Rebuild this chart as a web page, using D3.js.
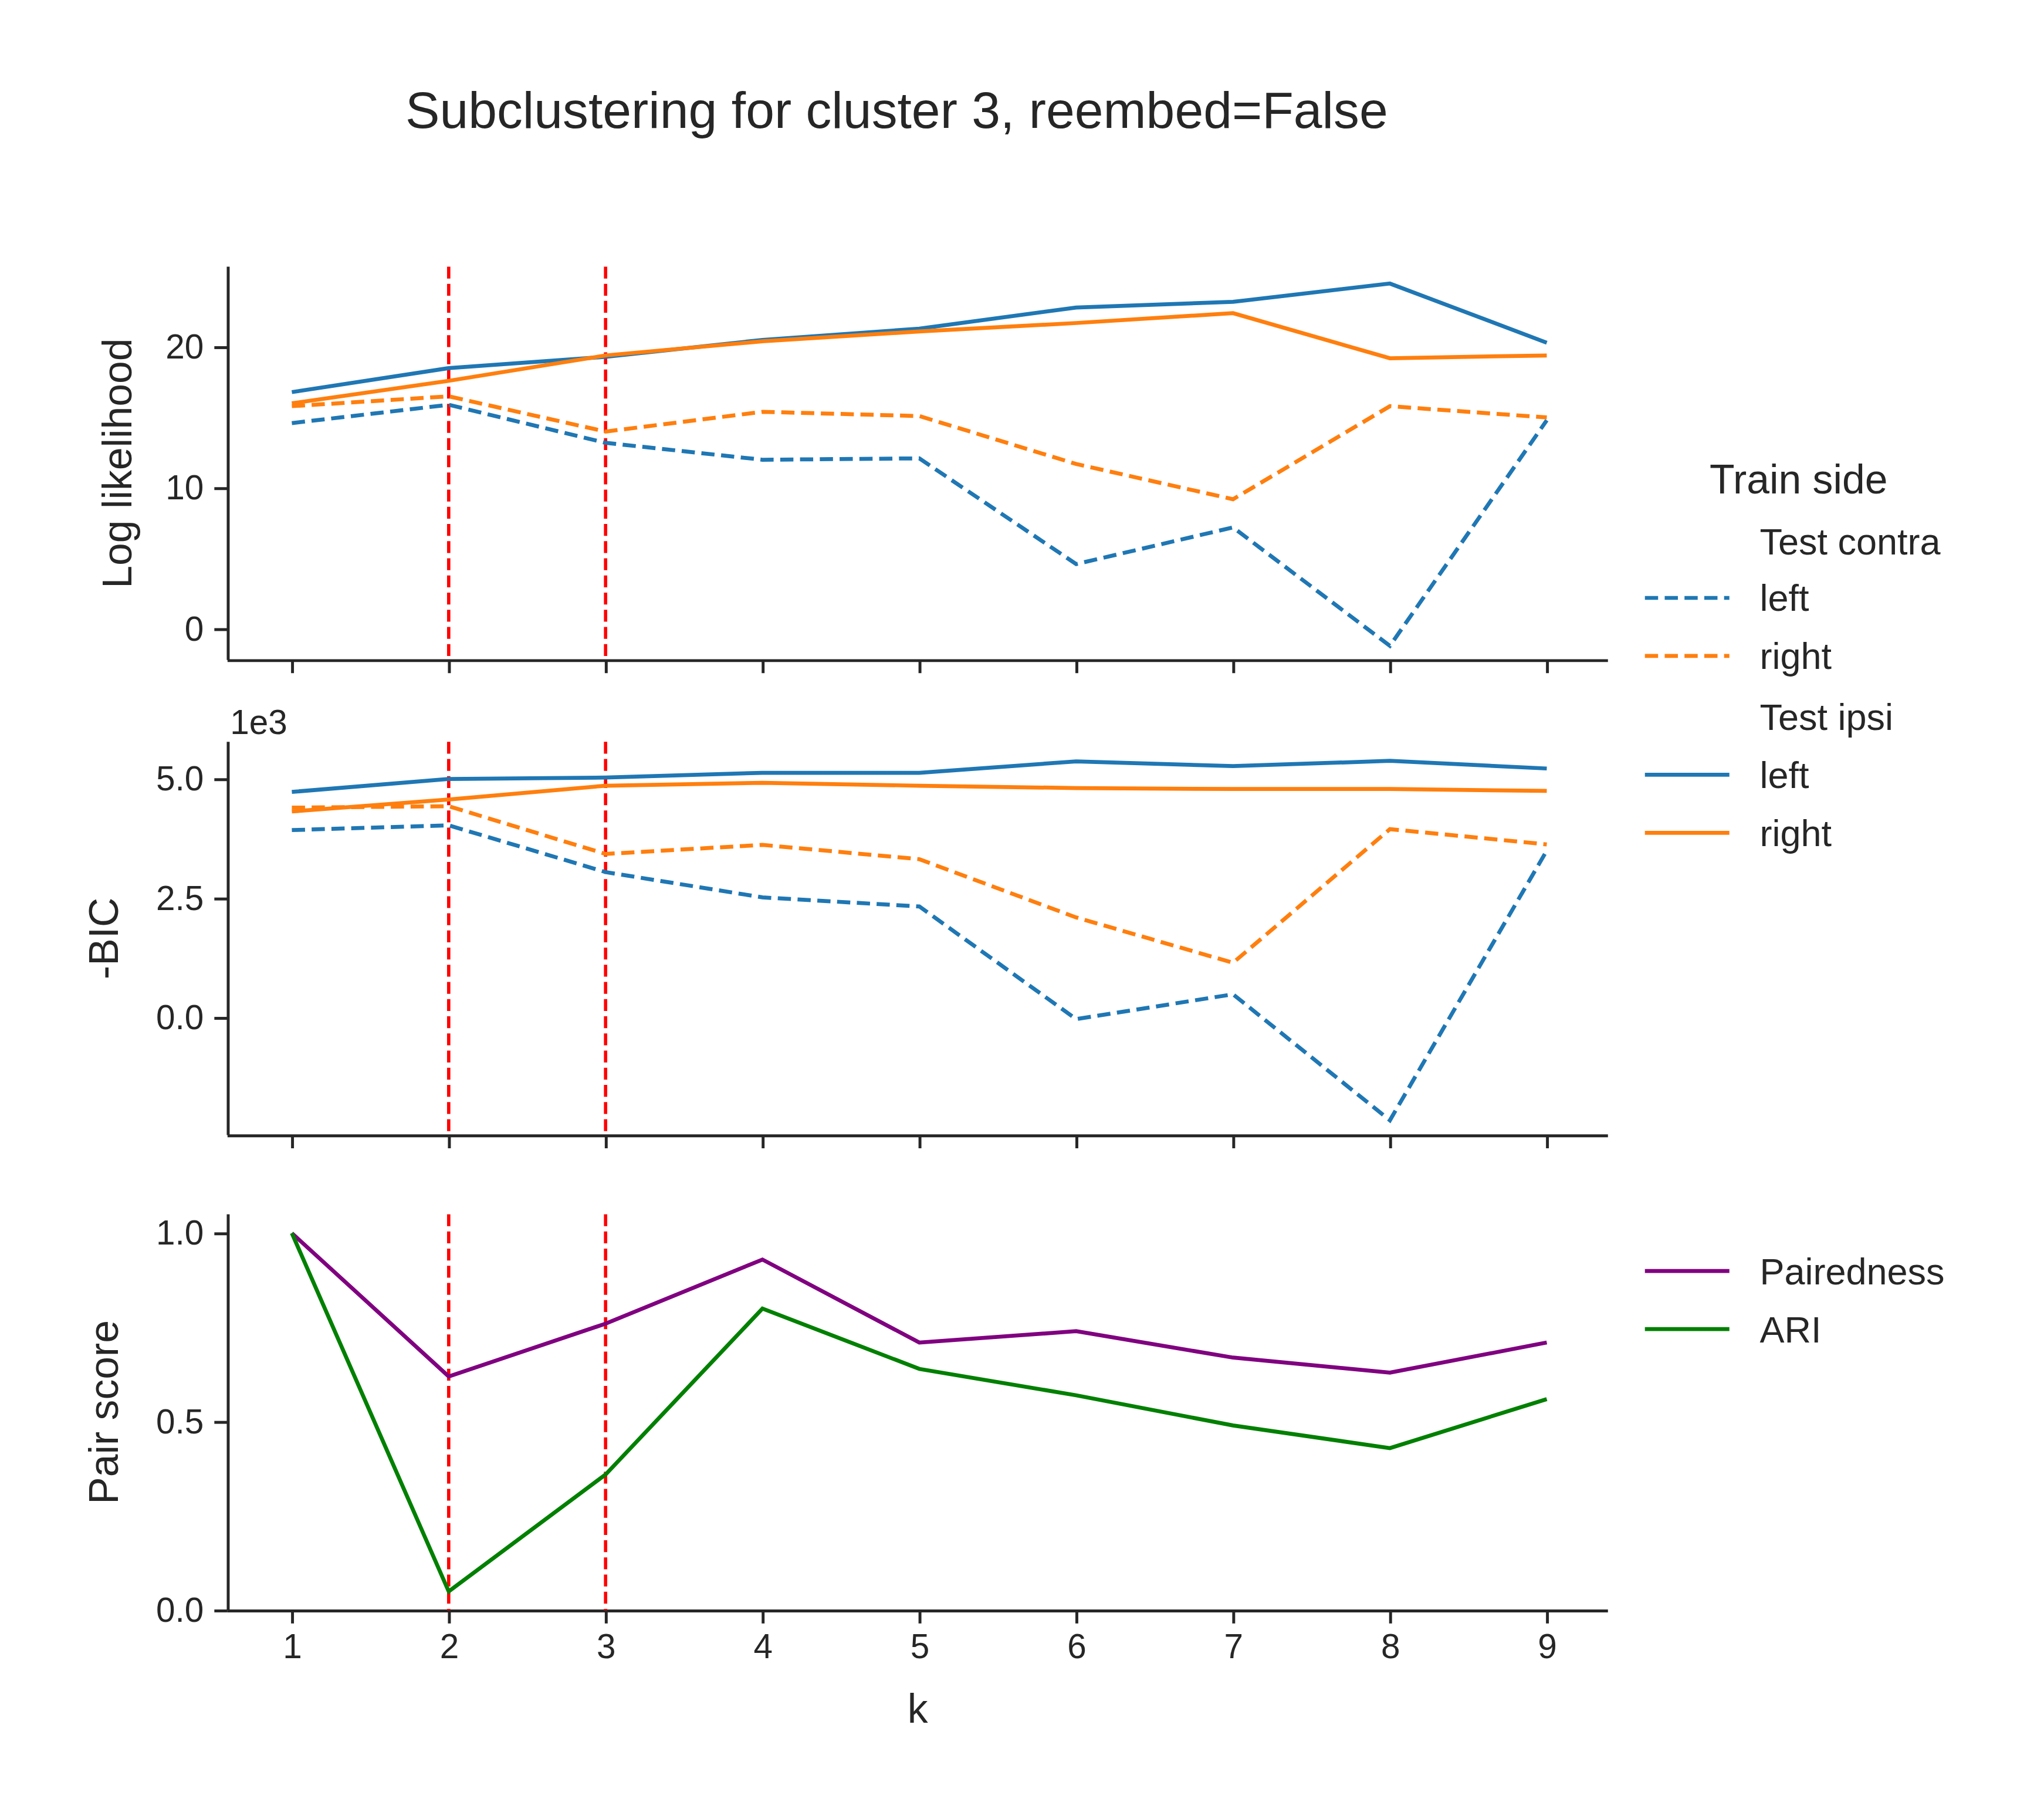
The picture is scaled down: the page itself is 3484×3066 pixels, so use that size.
<!DOCTYPE html>
<html><head><meta charset="utf-8">
<script src="https://cdn.jsdelivr.net/npm/d3@7"></script>
<style>body{margin:0;background:#fff}text{font-family:"Liberation Sans",Arial,sans-serif;fill:#262626}</style>
</head><body><div id="chart"></div>
<script>
var ks = [1, 2, 3, 4, 5, 6, 7, 8, 9];
var llIpsiLeft = [16.8, 18.5, 19.3, 20.5, 21.3, 22.8, 23.2, 24.5, 20.3];
var llIpsiRight = [16.0, 17.6, 19.4, 20.4, 21.1, 21.7, 22.4, 19.2, 19.4];
var llContraLeft = [14.6, 15.9, 13.2, 12.0, 12.1, 4.6, 7.2, -1.2, 14.8];
var llContraRight = [15.8, 16.5, 14.0, 15.4, 15.1, 11.7, 9.2, 15.8, 15.0];
var bicIpsiLeft = [4.73, 5.0, 5.03, 5.13, 5.13, 5.37, 5.27, 5.38, 5.22];
var bicIpsiRight = [4.32, 4.57, 4.86, 4.92, 4.86, 4.81, 4.79, 4.79, 4.75];
var bicContraLeft = [3.93, 4.03, 3.05, 2.52, 2.33, -0.03, 0.49, -2.15, 3.5];
var bicContraRight = [4.4, 4.43, 3.43, 3.62, 3.32, 2.1, 1.15, 3.95, 3.63];
var pairedness = [1.0, 0.62, 0.76, 0.93, 0.71, 0.74, 0.67, 0.63, 0.71];
var ari = [1.0, 0.05, 0.36, 0.80, 0.64, 0.57, 0.49, 0.43, 0.56];
var chosenK = [2, 3];

var blue = "#1f77b4", orange = "#ff7f0e";
var svg = d3.select("#chart").append("svg")
  .attr("width", 3484).attr("height", 3066)
  .attr("viewBox", "0 0 1548 1363");

svg.append("text").attr("x", 679).attr("y", 97).attr("text-anchor", "middle")
  .attr("font-size", 39).text("Subclustering for cluster 3, reembed=False");

var x = d3.scaleLinear().domain([0.59, 9.39]).range([172, 1218]);

function panel(top, bottom, domain, ticks, fmt, label, labelX, series, showX) {
  var y = d3.scaleLinear().domain(domain).range([bottom, top]);
  var g = svg.append("g");
  var xa = g.append("g").attr("transform", `translate(0,${bottom})`)
    .call(d3.axisBottom(x).tickValues(ks).tickSize(10).tickPadding(8)
      .tickFormat(showX ? d3.format("d") : ""));
  var ya = g.append("g").attr("transform", `translate(172,0)`)
    .call(d3.axisLeft(y).tickValues(ticks).tickSize(10).tickPadding(8).tickFormat(fmt));
  [xa, ya].forEach(function(a) {
    a.selectAll("path,line").attr("stroke", "#262626").attr("stroke-width", 2.2);
    a.selectAll("text").attr("font-size", 26).attr("fill", "#262626")
      .attr("font-family", "Liberation Sans, Arial, sans-serif");
    a.select(".domain").attr("d", a === xa ? "M172,0.5H1218" : `M0.5,${top}V${bottom}`);
  });
  chosenK.forEach(function(k) {
    g.append("line").attr("x1", x(k)).attr("x2", x(k)).attr("y1", top).attr("y2", bottom)
      .attr("stroke", "red").attr("stroke-width", 2.5).attr("stroke-dasharray", "9,4");
  });
  var line = d3.line().x(function(d, i) { return x(ks[i]); }).y(function(d) { return y(d); });
  series.forEach(function(s) {
    g.append("path").datum(s.v).attr("d", line).attr("fill", "none")
      .attr("stroke", s.c).attr("stroke-width", 3)
      .attr("stroke-dasharray", s.dash ? "10,5" : null);
  });
  g.append("text").attr("transform", `translate(${labelX},${(top + bottom) / 2}) rotate(-90)`)
    .attr("text-anchor", "middle").attr("font-size", 31).text(label);
  return y;
}

panel(202, 500, [-2.2, 25.7], [0, 10, 20], d3.format("d"), "Log likelihood", 99, [
  {v: llContraLeft, c: blue, dash: true}, {v: llContraRight, c: orange, dash: true},
  {v: llIpsiLeft, c: blue}, {v: llIpsiRight, c: orange}], false);
panel(562, 860, [-2.46, 5.78], [0, 2.5, 5], d3.format(".1f"), "-BIC", 89, [
  {v: bicContraLeft, c: blue, dash: true}, {v: bicContraRight, c: orange, dash: true},
  {v: bicIpsiLeft, c: blue}, {v: bicIpsiRight, c: orange}], false);
svg.append("text").attr("x", 174).attr("y", 556).attr("font-size", 26).text("1e3");
panel(920, 1220, [0, 1.05], [0, 0.5, 1.0], d3.format(".1f"), "Pair score", 89, [
  {v: pairedness, c: "purple"}, {v: ari, c: "green"}], true);
svg.append("text").attr("x", 695).attr("y", 1305).attr("text-anchor", "middle")
  .attr("font-size", 31).text("k");

// legends
var leg = svg.append("g");
leg.append("text").attr("x", 1295).attr("y", 374).attr("font-size", 31).text("Train side");
var items = [
  {t: "Test contra", y: 410}, {t: "left", y: 453, c: blue, dash: true},
  {t: "right", y: 497, c: orange, dash: true}, {t: "Test ipsi", y: 543},
  {t: "left", y: 587, c: blue}, {t: "right", y: 631, c: orange},
  {t: "Pairedness", y: 963, c: "purple"}, {t: "ARI", y: 1007, c: "green"}];
items.forEach(function(it) {
  if (it.c) leg.append("line").attr("x1", 1246).attr("x2", 1310).attr("y1", it.y).attr("y2", it.y)
    .attr("stroke", it.c).attr("stroke-width", 3).attr("stroke-dasharray", it.dash ? "10,5" : null);
  leg.append("text").attr("x", 1333).attr("y", it.y + 10).attr("font-size", 28).text(it.t);
});
</script></body></html>
